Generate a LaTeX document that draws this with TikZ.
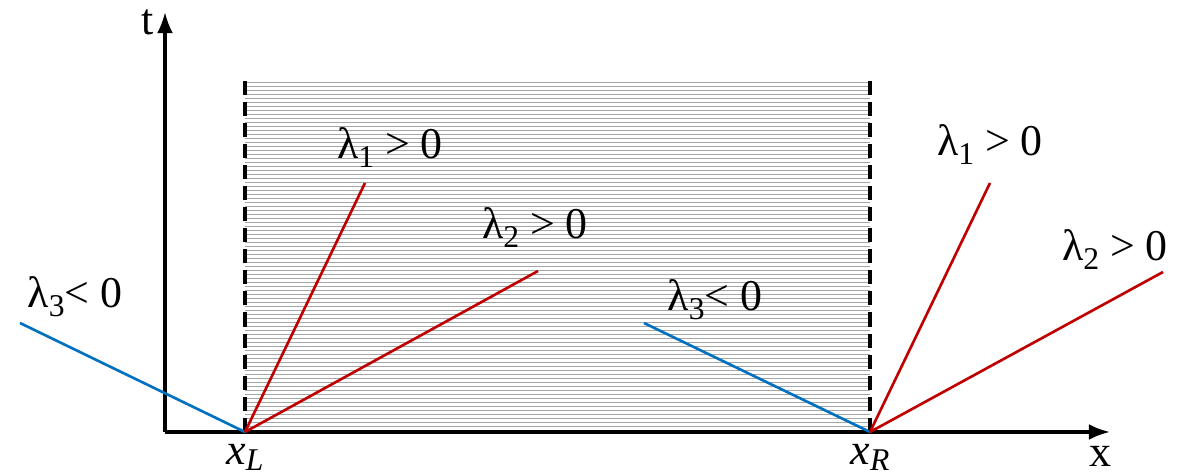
\documentclass[tikz,border=0pt]{standalone}
\usepackage{fontspec}
\setmainfont{Liberation Serif}
\usetikzlibrary{arrows.meta}
\definecolor{wred}{HTML}{C00000}
\definecolor{wblue}{HTML}{0070C0}
\newcommand{\lam}[1]{λ\raisebox{-0.45ex}{\fontsize{18}{18}\selectfont #1}}
\newcommand{\xsub}[1]{\textit{x}\raisebox{-0.3ex}{\fontsize{18}{18}\selectfont\textit{#1}}}

\begin{document}
\begin{tikzpicture}[
  lbl/.style={font=\fontsize{25}{28}\selectfont, inner sep=1pt},
  axis/.style={line width=1.8pt, -{Latex[length=12pt,width=9pt]}},
  wall/.style={line width=2.2pt, dash pattern=on 8pt off 4pt},
  fast/.style={line width=1.5pt, wred},
  slow/.style={line width=1.5pt, wblue}]
  \useasboundingbox (0,0) rectangle (23.78,9.5);
  % hatched band between the two walls
  \foreach \y in {0.9,0.98,...,7.9}
    \draw[black!35, line width=0.55pt] (4.9,\y) -- (17.4,\y);
  % walls
  \coordinate (xL) at (4.9,0.86);
  \coordinate (xR) at (17.4,0.86);
  \coordinate (xLtop) at (4.9,7.9);
  \coordinate (xRtop) at (17.4,7.9);
  \draw[wall] (xL) -- (xLtop);
  \draw[wall] (xR) -- (xRtop);
  % axes
  \coordinate (O) at (3.3,0.86);
  \coordinate (tend) at (3.3,9.26);
  \coordinate (xend) at (22.2,0.86);
  \draw[axis] (O) -- (tend);
  \draw[axis] (O) -- (xend);
  \node[lbl] (tlab) at (2.96,9.06) {t};
  \node[lbl] (xlab) at (22.0,0.38) {x};
  \node[lbl] (xLlab) at (4.9,0.36) {\xsub{L}};
  \node[lbl] (xRlab) at (17.4,0.36) {\xsub{R}};
  % characteristics at x_L
  \coordinate (L3) at (0.4,3.04);
  \coordinate (L1) at (7.3,5.84);
  \coordinate (L2) at (10.76,4.08);
  \draw[slow] (xL) -- (L3);
  \draw[fast] (xL) -- (L1);
  \draw[fast] (xL) -- (L2);
  \node[lbl] (L3lab) at (1.5,3.56) {\lam{3}< 0};
  \node[lbl] (L1lab) at (7.8,6.54) {\lam{1} > 0};
  \node[lbl] (L2lab) at (10.7,4.94) {\lam{2} > 0};
  % characteristics at x_R
  \coordinate (R3) at (12.88,3.04);
  \coordinate (R1) at (19.8,5.84);
  \coordinate (R2) at (23.26,4.06);
  \draw[slow] (xR) -- (R3);
  \draw[fast] (xR) -- (R1);
  \draw[fast] (xR) -- (R2);
  \node[lbl] (R3lab) at (14.3,3.5) {\lam{3}< 0};
  \node[lbl] (R1lab) at (19.8,6.6) {\lam{1} > 0};
  \node[lbl] (R2lab) at (22.3,4.5) {\lam{2} > 0};
\end{tikzpicture}
\end{document}
